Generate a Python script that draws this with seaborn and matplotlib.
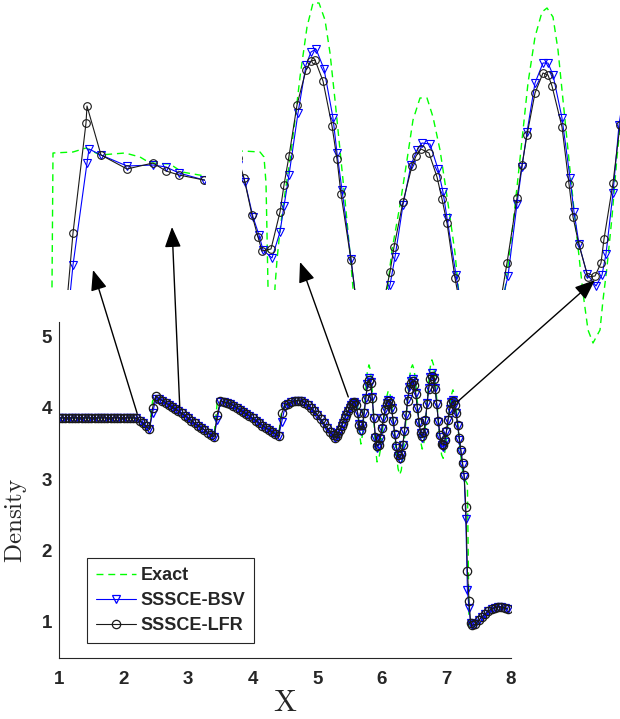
import numpy as np
import matplotlib
matplotlib.use("Agg")
import matplotlib.pyplot as plt
import seaborn as sns
from matplotlib.patches import ConnectionPatch, ArrowStyle

sns.set_theme(style="white")
plt.rcParams["font.family"] = ["Liberation Sans", "DejaVu Sans"]
plt.rcParams["mathtext.fontset"] = "cm"

# ---------------- main-plot data (x grid: dx=0.05, refined 0.025 in the wave region) ----
x_coarse = np.round(np.arange(1.00, 5.2501, 0.05), 3)
x_fine = np.round(np.arange(5.275, 7.4001, 0.025), 3)
x_tail = np.round(np.arange(7.45, 7.9501, 0.05), 3)
x_main = np.concatenate([x_coarse, x_fine, x_tail])

bsv_coarse = [3.857, 3.857, 3.857, 3.857, 3.857, 3.857, 3.857, 3.857, 3.857, 3.857, 3.857, 3.857,
              3.857, 3.857, 3.857, 3.857, 3.857, 3.857, 3.857, 3.857, 3.857, 3.857, 3.857, 3.857,
              3.85, 3.82, 3.78, 3.74, 3.70, 3.93, 4.12, 4.12, 4.10, 4.07,
              4.04, 4.01, 3.98, 3.95, 3.92, 3.89, 3.85, 3.82, 3.78, 3.75,
              3.72, 3.69, 3.65, 3.62, 3.59, 3.83, 4.08, 4.08, 4.07, 4.05,
              4.03, 4.00, 3.97, 3.94, 3.91, 3.88, 3.85, 3.82, 3.78, 3.75,
              3.72, 3.69, 3.66, 3.63, 3.60, 3.80, 4.01, 4.05, 4.08, 4.10,
              4.10, 4.09, 4.07, 4.04, 4.00, 3.95, 3.90, 3.84, 3.78, 3.72,
              3.66, 3.61]
bsv_fine = [3.58, 3.60, 3.64, 3.69, 3.74, 3.79, 3.85, 3.90, 3.95, 4.00,
            4.04, 4.07, 4.08, 4.05, 3.93, 3.77, 3.68, 3.74, 3.92, 4.13,
            4.33, 4.42, 4.36, 4.15, 3.85, 3.57, 3.44, 3.47, 3.56, 3.70,
            3.85, 3.98, 4.07, 4.11, 4.09, 3.99, 3.82, 3.62, 3.44, 3.32,
            3.28, 3.33, 3.47, 3.67, 3.90, 4.12, 4.29, 4.38, 4.40, 4.34,
            4.20, 4.00, 3.79, 3.64, 3.58, 3.64, 3.82, 4.06, 4.28, 4.43,
            4.48, 4.42, 4.27, 4.05, 3.80, 3.59, 3.47, 3.45, 3.52, 3.66,
            3.83, 3.98, 4.08, 4.11, 4.05, 3.92, 3.75, 3.55, 3.38, 3.20,
            3.03, 2.44, 1.44, 1.19, 0.98, 0.95]
bsv_tail = [0.97, 1.02, 1.07, 1.11, 1.15, 1.18, 1.20, 1.21, 1.21, 1.20, 1.18]

lfr_coarse = [3.857, 3.857, 3.857, 3.857, 3.857, 3.857, 3.857, 3.857, 3.857, 3.857, 3.857, 3.857,
              3.857, 3.857, 3.857, 3.857, 3.857, 3.857, 3.857, 3.857, 3.857, 3.857, 3.857, 3.857,
              3.85, 3.82, 3.78, 3.74, 3.70, 4.00, 4.17, 4.12, 4.10, 4.07,
              4.04, 4.01, 3.98, 3.95, 3.92, 3.89, 3.85, 3.82, 3.78, 3.75,
              3.72, 3.69, 3.65, 3.62, 3.59, 3.90, 4.10, 4.08, 4.07, 4.05,
              4.03, 4.00, 3.97, 3.94, 3.91, 3.88, 3.85, 3.82, 3.78, 3.75,
              3.72, 3.69, 3.66, 3.63, 3.60, 3.92, 4.04, 4.05, 4.08, 4.10,
              4.10, 4.09, 4.07, 4.04, 4.00, 3.95, 3.90, 3.84, 3.78, 3.72,
              3.66, 3.61]
lfr_fine = [3.58, 3.60, 3.64, 3.69, 3.74, 3.79, 3.85, 3.90, 3.95, 4.00,
            4.04, 4.07, 4.08, 4.04, 3.92, 3.76, 3.69, 3.76, 3.93, 4.12,
            4.30, 4.39, 4.34, 4.14, 3.86, 3.59, 3.46, 3.48, 3.57, 3.71,
            3.85, 3.97, 4.05, 4.09, 4.07, 3.98, 3.82, 3.63, 3.46, 3.34,
            3.30, 3.35, 3.48, 3.68, 3.90, 4.10, 4.26, 4.35, 4.38, 4.32,
            4.19, 4.00, 3.80, 3.65, 3.60, 3.66, 3.83, 4.05, 4.26, 4.40,
            4.45, 4.40, 4.26, 4.05, 3.81, 3.61, 3.49, 3.47, 3.54, 3.67,
            3.83, 3.97, 4.06, 4.09, 4.04, 3.92, 3.76, 3.57, 3.40, 3.22,
            3.05, 2.61, 1.71, 1.29, 0.98, 0.95]
lfr_tail = [0.97, 1.02, 1.07, 1.11, 1.15, 1.18, 1.20, 1.21, 1.21, 1.20, 1.18]

exact_coarse = [3.857, 3.857, 3.857, 3.857, 3.857, 3.857, 3.857, 3.857, 3.857, 3.857, 3.857, 3.857,
                3.857, 3.857, 3.857, 3.857, 3.857, 3.857, 3.857, 3.857, 3.857, 3.857, 3.857, 3.857,
                3.85, 3.82, 3.78, 3.74, 3.70, 4.10, 4.12, 4.12, 4.10, 4.07,
                4.04, 4.01, 3.98, 3.95, 3.92, 3.89, 3.85, 3.82, 3.78, 3.75,
                3.72, 3.69, 3.65, 3.62, 3.59, 4.07, 4.08, 4.08, 4.07, 4.05,
                4.03, 4.00, 3.97, 3.94, 3.91, 3.88, 3.85, 3.82, 3.78, 3.75,
                3.72, 3.69, 3.66, 3.63, 3.60, 3.98, 4.02, 4.05, 4.08, 4.10,
                4.10, 4.09, 4.07, 4.04, 4.00, 3.95, 3.90, 3.84, 3.78, 3.72,
                3.66, 3.61]
exact_fine = [3.58, 3.60, 3.64, 3.69, 3.74, 3.79, 3.85, 3.90, 3.95, 4.00,
              4.04, 4.07, 4.09, 4.10, 4.02, 3.68, 3.49, 3.62, 3.92, 4.25,
              4.50, 4.60, 4.52, 4.25, 3.85, 3.45, 3.24, 3.27, 3.40, 3.60,
              3.80, 3.98, 4.15, 4.24, 4.20, 4.06, 3.85, 3.60, 3.35, 3.15,
              3.06, 3.12, 3.30, 3.56, 3.85, 4.15, 4.40, 4.55, 4.60, 4.53,
              4.34, 4.08, 3.78, 3.53, 3.42, 3.50, 3.75, 4.07, 4.36, 4.57,
              4.67, 4.60, 4.40, 4.12, 3.80, 3.52, 3.34, 3.29, 3.38, 3.56,
              3.78, 4.00, 4.17, 4.25, 4.18, 4.00, 3.77, 3.52, 3.30, 3.12,
              3.02, 2.97, 2.93, 0.93, 0.92, 0.92]
exact_tail = [0.95, 1.00, 1.06, 1.11, 1.15, 1.18, 1.20, 1.20, 1.20, 1.19, 1.17]

bsv_main = np.array(bsv_coarse + bsv_fine + bsv_tail)
lfr_main = np.array(lfr_coarse + lfr_fine + lfr_tail)
exact_main = np.array(exact_coarse + exact_fine + exact_tail)
assert len(bsv_main) == len(x_main) == len(lfr_main) == len(exact_main)

# ---------------- zoom A (first jump) ----------------
zA_x_bsv = [2.426, 2.452, 2.480, 2.484, 2.508, 2.560, 2.612, 2.638, 2.664, 2.714, 2.740]
zA_bsv = [3.560, 3.820, 4.024, 4.052, 4.040, 4.018, 4.020, 4.016, 4.004, 3.990, 3.985]
zA_x_lfr = [2.426, 2.452, 2.478, 2.480, 2.508, 2.560, 2.612, 2.638, 2.664, 2.714, 2.740]
zA_lfr = [3.588, 3.884, 4.104, 4.138, 4.040, 4.012, 4.024, 4.008, 4.000, 3.990, 3.985]
zA_x_ex = [2.396, 2.408, 2.412, 2.452, 2.478, 2.506, 2.556, 2.586, 2.606, 2.646, 2.670, 2.716, 2.740]
zA_ex = [3.550, 3.510, 4.044, 4.046, 4.054, 4.040, 4.044, 4.036, 4.024, 4.022, 4.006, 3.998, 3.990]

# ---------------- zoom B/C (wave region) ----------------
zB_x_lfr = [5.590, 5.605, 5.625, 5.640, 5.650, 5.6725, 5.695, 5.705, 5.7175, 5.7375, 5.760, 5.7725,
            5.7825, 5.8025, 5.825, 5.8375, 5.8475, 5.8725, 5.885, 5.920, 5.955, 5.970, 5.980, 6.0025,
            6.025, 6.035, 6.0475, 6.0675, 6.0875, 6.100, 6.1125, 6.1325, 6.145, 6.195, 6.245, 6.2625,
            6.2875, 6.300, 6.3125, 6.3325, 6.3525, 6.365, 6.375, 6.400, 6.4175, 6.4275, 6.4425, 6.465,
            6.4825, 6.4975, 6.505, 6.5275, 6.545, 6.5575]
zB_lfr = [3.910, 3.810, 3.625, 3.515, 3.445, 3.455, 3.640, 3.775, 3.920, 4.175, 4.350, 4.395,
          4.400, 4.295, 4.070, 3.905, 3.730, 3.400, 3.200, 3.000, 3.200, 3.340, 3.465, 3.690,
          3.870, 3.920, 3.955, 3.935, 3.815, 3.705, 3.585, 3.310, 3.175, 3.000, 3.175, 3.385,
          3.710, 3.875, 4.025, 4.235, 4.335, 4.325, 4.270, 4.065, 3.780, 3.615, 3.475, 3.315,
          3.320, 3.385, 3.505, 3.785, 4.075, 4.250]
zB_x_bsv = [5.590, 5.6075, 5.6275, 5.6425, 5.6525, 5.675, 5.695, 5.705, 5.7175, 5.740, 5.760, 5.7725,
            5.785, 5.805, 5.8275, 5.8375, 5.850, 5.8725, 5.885, 5.920, 5.955, 5.970, 5.9825, 6.0025,
            6.0225, 6.0375, 6.050, 6.070, 6.090, 6.1025, 6.1125, 6.135, 6.1475, 6.195, 6.245, 6.265,
            6.2875, 6.300, 6.3125, 6.3325, 6.3525, 6.365, 6.3775, 6.400, 6.420, 6.430, 6.4425, 6.4625,
            6.485, 6.500, 6.510, 6.5275, 6.5425, 6.5575]
zB_bsv = [3.875, 3.790, 3.615, 3.525, 3.450, 3.410, 3.540, 3.670, 3.825, 4.135, 4.375, 4.440,
          4.455, 4.355, 4.110, 3.935, 3.750, 3.405, 3.200, 3.000, 3.175, 3.275, 3.415, 3.675,
          3.875, 3.950, 3.985, 3.980, 3.855, 3.740, 3.610, 3.325, 3.175, 3.000, 3.150, 3.320,
          3.680, 3.865, 4.040, 4.285, 4.385, 4.385, 4.325, 4.110, 3.810, 3.640, 3.480, 3.330,
          3.270, 3.325, 3.430, 3.735, 4.075, 4.275]
zB_x_ex = [5.585, 5.6025, 5.645, 5.655, 5.660, 5.6625, 5.665, 5.6725, 5.6825, 5.6875, 5.695, 5.7075,
           5.720, 5.7325, 5.745, 5.7625, 5.7775, 5.7925, 5.8075, 5.820, 5.8325, 5.845, 5.8575, 5.870,
           5.880, 5.920, 5.960, 5.975, 5.995, 6.0125, 6.0275, 6.045, 6.0625, 6.0775, 6.095, 6.1075,
           6.120, 6.1325, 6.1425, 6.195, 6.250, 6.2575, 6.275, 6.2875, 6.300, 6.315, 6.3325, 6.350,
           6.3625, 6.3775, 6.390, 6.4025, 6.415, 6.4275, 6.440, 6.4525, 6.465, 6.4775, 6.495, 6.5025,
           6.5125, 6.525, 6.5375, 6.545, 6.5575]
zB_ex = [3.940, 3.945, 3.940, 3.915, 3.785, 3.535, 3.265, 2.800, 3.265, 3.400, 3.550, 3.735,
         3.900, 4.100, 4.315, 4.565, 4.685, 4.685, 4.600, 4.435, 4.200, 3.950, 3.700, 3.435,
         3.200, 2.900, 3.200, 3.450, 3.675, 3.900, 4.100, 4.210, 4.210, 4.115, 3.950, 3.785,
         3.615, 3.435, 3.225, 2.900, 3.200, 3.250, 3.535, 3.765, 4.000, 4.285, 4.515, 4.640,
         4.660, 4.615, 4.450, 4.200, 3.950, 3.700, 3.465, 3.235, 3.050, 2.985, 3.050, 3.200,
         3.365, 3.615, 3.915, 4.065, 4.250]

legend_labels = ["Exact", "SSSCE-BSV", "SSSCE-LFR"]
x_ticks = [1, 2, 3, 4, 5, 6, 7, 8]
y_ticks = [1, 2, 3, 4, 5]

GREEN = "#00ff00"
BLUE = "#0000ff"
BLACK = "#1a1a1a"
AXC = "#262626"

W, H = 620, 719
fig = plt.figure(figsize=(W / 100, H / 100), dpi=100)


def px_rect(x0, y0, x1, y1):
    return [x0 / W, 1 - y1 / H, (x1 - x0) / W, (y1 - y0) / H]


def draw_series(axis, xe, ye, xb, yb, xl, yl, labels=None, ms=5.5, mew=0.8):
    lab = labels if labels else [None, None, None]
    sns.lineplot(x=xe, y=ye, ax=axis, color=GREEN, lw=1.0, linestyle=(0, (5, 3.5)),
                 sort=False, estimator=None, errorbar=None, label=lab[0], legend=False)
    sns.lineplot(x=xb, y=yb, ax=axis, color=BLUE, lw=0.8, marker="v", markersize=ms,
                 markerfacecolor="none", markeredgecolor=BLUE, markeredgewidth=mew,
                 sort=False, estimator=None, errorbar=None, label=lab[1], legend=False)
    sns.lineplot(x=xl, y=yl, ax=axis, color=BLACK, lw=0.8, marker="o", markersize=ms,
                 markerfacecolor="none", markeredgecolor=BLACK, markeredgewidth=mew,
                 sort=False, estimator=None, errorbar=None, label=lab[2], legend=False)


# ---------------- main axes ----------------
ax = fig.add_axes(px_rect(59, 322, 511, 657.5))
draw_series(ax, x_main, exact_main, x_main, bsv_main, x_main, lfr_main,
            labels=legend_labels, ms=6, mew=1.3)
ax.set_xlim(1, 8)
ax.set_ylim(0.5, 5.2)
ax.set_xticks(x_ticks)
ax.set_yticks(y_ticks)
sns.despine(ax=ax)
for s in ("left", "bottom"):
    ax.spines[s].set_color(AXC)
    ax.spines[s].set_linewidth(0.8)
ax.tick_params(axis="both", direction="in", length=5, width=0.8, color=AXC,
               labelcolor=AXC, labelsize=13.5)
ax.tick_params(axis="x", pad=10)
ax.tick_params(axis="y", pad=5)
for t in ax.get_xticklabels() + ax.get_yticklabels():
    t.set_fontweight("bold")
ax.set_xlabel(r"$\mathrm{X}$", fontsize=22, color=AXC, labelpad=0)
ax.set_ylabel(r"$\mathrm{Density}$", fontsize=18, color=AXC)
ax.yaxis.set_label_coords(-0.066, 0.41)

handles, labels = ax.get_legend_handles_labels()
for h in handles:
    h.set_markeredgewidth(0.9)
    h.set_markersize(6)
leg = ax.legend(handles, labels, loc="lower left", bbox_to_anchor=(0.062, 0.042),
                borderaxespad=0, frameon=True, fancybox=False, framealpha=1,
                edgecolor=AXC, prop={"weight": "bold", "size": 13},
                handlelength=2.2, handletextpad=0.25, labelspacing=0.45, borderpad=0.5)
leg.get_frame().set_linewidth(0.8)

# ---------------- zoom insets ----------------
axA = fig.add_axes(px_rect(47, 100, 205, 290))
draw_series(axA, zA_x_ex, zA_ex, zA_x_bsv, zA_bsv, zA_x_lfr, zA_lfr)
axA.set_xlim(2.40, 2.716)
axA.set_ylim(3.77, 4.15)
axA.axis("off")

axB = fig.add_axes(px_rect(242, 0, 530, 290))
draw_series(axB, zB_x_ex, zB_ex, zB_x_bsv, zB_bsv, zB_x_lfr, zB_lfr)
axB.set_xlim(5.60, 6.32)
axB.set_ylim(3.25, 4.70)
axB.axis("off")

axC = fig.add_axes(px_rect(530, 0, 620, 348))
draw_series(axC, zB_x_ex, zB_ex, zB_x_bsv, zB_bsv, zB_x_lfr, zB_lfr)
axC.set_xlim(6.32, 6.545)
axC.set_ylim(2.96, 4.70)
axC.axis("off")

# ---------------- arrows from the main curve to the zooms ----------------
arrow_tails = [(2.21, 3.92), (2.87, 4.01), (5.48, 4.15), (7.18, 4.09)]
arrow_tips_px = [(93, 270), (172, 227), (300, 262), (595, 280)]
style = ArrowStyle("-|>", head_length=1.25, head_width=0.5)
for (tx, ty), (hx, hy) in zip(arrow_tails, arrow_tips_px):
    cp = ConnectionPatch(xyA=(tx, ty), coordsA=ax.transData,
                         xyB=(hx, H - hy), coordsB="figure pixels",
                         arrowstyle=style, mutation_scale=10, color="black",
                         lw=1.0, shrinkA=0, shrinkB=0, zorder=10)
    fig.add_artist(cp)

fig.savefig("out.png", dpi=100)
